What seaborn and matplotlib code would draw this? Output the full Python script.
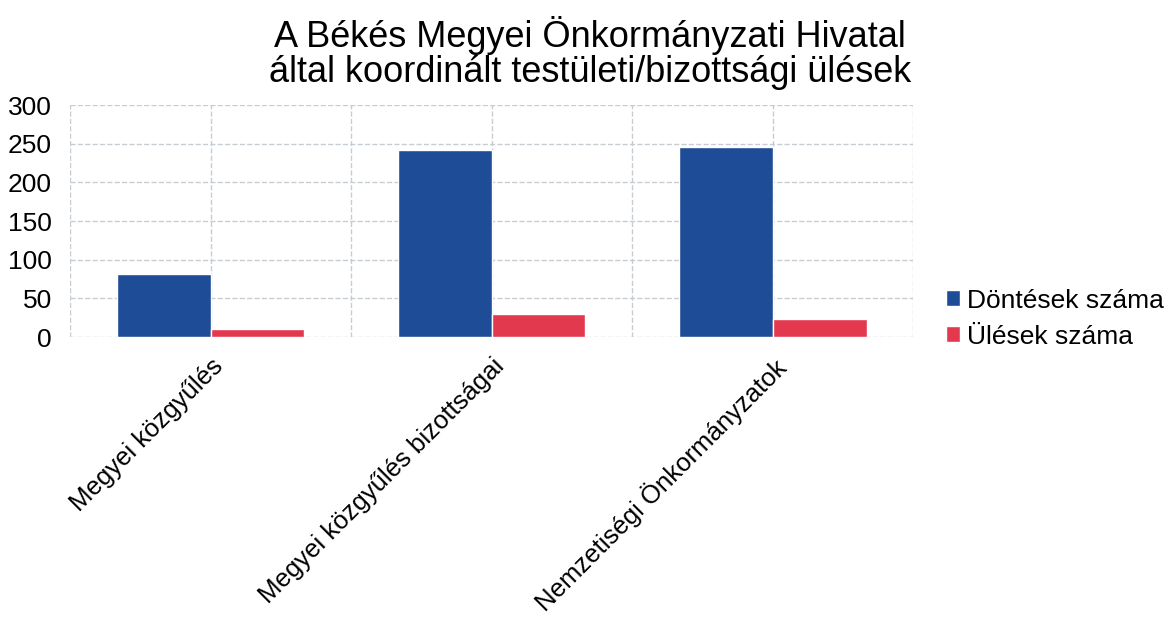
import matplotlib
matplotlib.use("Agg")
import matplotlib.pyplot as plt
import seaborn as sns
import pandas as pd

# data
categories = ["Megyei közgyűlés", "Megyei közgyűlés bizottságai", "Nemzetiségi Önkormányzatok"]
dontesek = [81, 242, 246]
ulesek = [10, 30, 23]
series_names = ["Döntések száma", "Ülések száma"]
colors = ["#1f4c96", "#e2394f"]

df = pd.DataFrame({
    "kategoria": categories * 2,
    "ertek": dontesek + ulesek,
    "sorozat": [series_names[0]] * 3 + [series_names[1]] * 3,
})

sns.set_style("white")
plt.rcParams["font.family"] = ["Liberation Sans", "DejaVu Sans"]
plt.rcParams["text.color"] = "black"

fig = plt.figure(figsize=(11.68, 6.22), dpi=100)
ax = fig.add_axes([0.06, 0.458, 0.722, 0.373])

sns.barplot(data=df, x="kategoria", y="ertek", hue="sorozat", palette=colors,
            width=2 / 3, gap=0, saturation=1, ax=ax, legend=True)

ax.set_ylim(0, 300)
ax.set_xlim(-0.5, 2.5)
ax.set_yticks([0, 50, 100, 150, 200, 250, 300])
ax.tick_params(axis="y", labelsize=19, pad=13, length=0, labelcolor="black")
ax.tick_params(axis="x", labelsize=18.5, length=0, pad=12, labelcolor="black")
plt.setp(ax.get_xticklabels(), rotation=45, ha="right", rotation_mode="anchor")
ax.set_xlabel("")
ax.set_ylabel("")

# dashed grid, vertical lines at every half category
ax.set_xticks([-0.5, 0.5, 1.5, 2.5], minor=True)
ax.grid(True, axis="y", linestyle="--", color="#c5cdd3", linewidth=1)
ax.grid(True, axis="x", which="both", linestyle="--", color="#c5cdd3", linewidth=1)
ax.set_axisbelow(True)
for s in ax.spines.values():
    s.set_visible(False)

fig.suptitle("A Békés Megyei Önkormányzati Hivatal\náltal koordinált testületi/bizottsági ülések",
             x=0.505, y=0.975, fontsize=26, linespacing=1.0)

leg = ax.legend(loc="center left", bbox_to_anchor=(1.01, 0.08), frameon=False,
                fontsize=19, handlelength=0.55, handleheight=0.55, handletextpad=0.25,
                labelspacing=0.45)

fig.savefig("out.png", dpi=100)
